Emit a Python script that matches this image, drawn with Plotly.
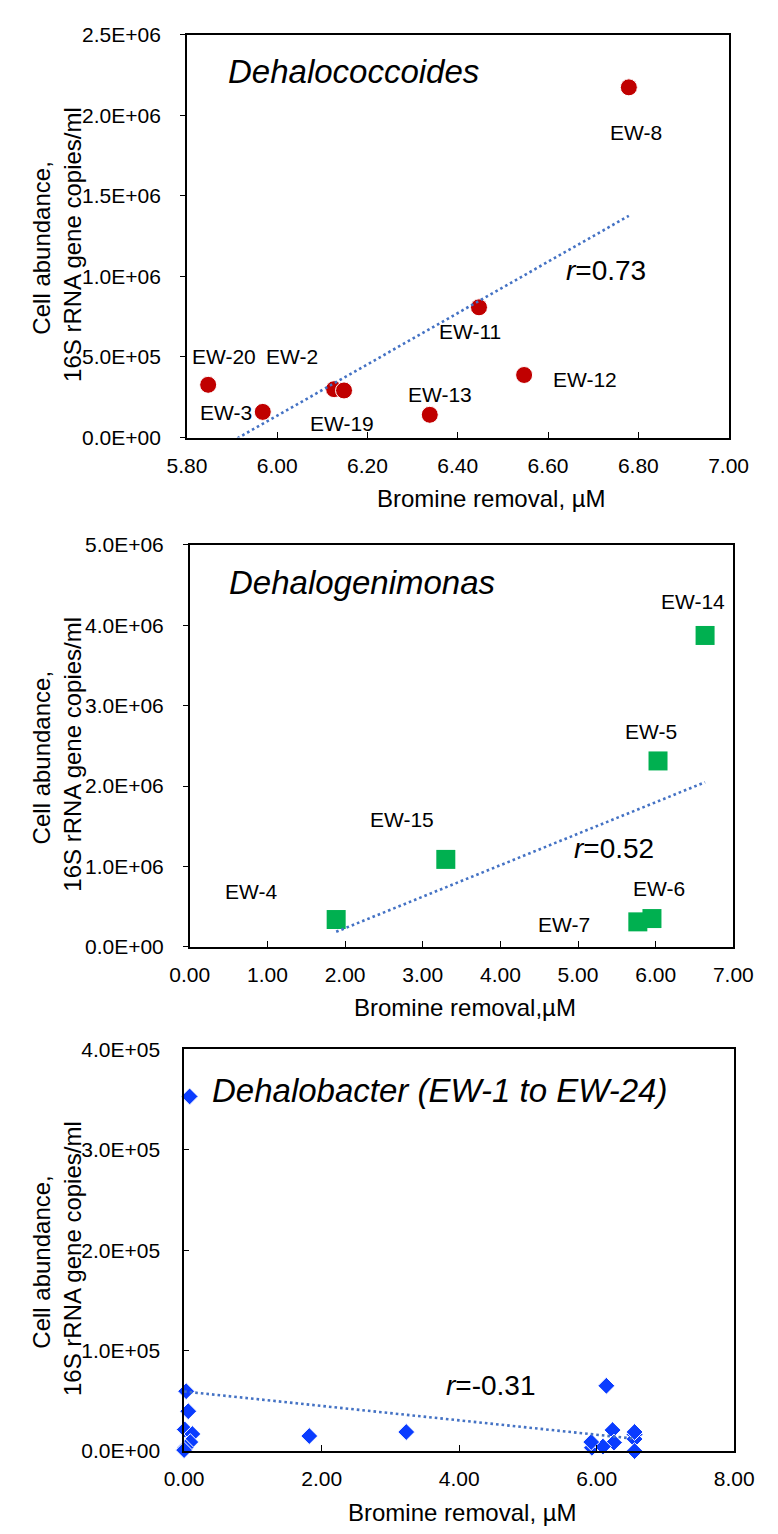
import numpy as np
import plotly.graph_objects as go

W, H = 778, 1534
FONT = "Liberation Sans, Arial, sans-serif"

# ---------------- data ----------------
# Panel 1: Dehalococcoides
dhc_wells = ["EW-8", "EW-11", "EW-12", "EW-13", "EW-20", "EW-3", "EW-2", "EW-19"]
dhc_br = [6.779, 6.447, 6.547, 6.338, 5.847, 5.968, 6.126, 6.148]
dhc_cells = [2.173e6, 0.808e6, 0.388e6, 0.141e6, 0.327e6, 0.159e6, 0.300e6, 0.292e6]
dhc_r = "0.73"

# Panel 2: Dehalogenimonas
dhg_wells = ["EW-14", "EW-5", "EW-15", "EW-4", "EW-7", "EW-6"]
dhg_br = [6.636, 6.030, 3.297, 1.885, 5.770, 5.952]
dhg_cells = [3.873e6, 2.312e6, 1.087e6, 0.339e6, 0.310e6, 0.351e6]
dhg_r = "0.52"

# Panel 3: Dehalobacter (EW-1 to EW-24)
dhb_br = [0.08, 0.03, 0.06, 0.01, 0.12, 0.09, 0.02, 0.00,
          1.82, 3.23,
          6.14, 6.23, 6.25, 5.93, 6.09, 5.92, 6.55, 6.55, 6.55, 6.55]
dhb_cells = [353000, 59600, 39700, 21500, 17000, 9000, 3500, 1000,
             15000, 19000,
             65000, 20900, 8500, 3300, 4500, 9000, 16500, 12000, 19000, 0]
dhb_r = "-0.31"

# tick labels
x1_ticks = [5.8, 6.0, 6.2, 6.4, 6.6, 6.8, 7.0]
y1_ticks = [0, 5e5, 1e6, 1.5e6, 2e6, 2.5e6]
y1_text = ["0.0E+00", "5.0E+05", "1.0E+06", "1.5E+06", "2.0E+06", "2.5E+06"]
x2_ticks = [0, 1, 2, 3, 4, 5, 6, 7]
y2_ticks = [0, 1e6, 2e6, 3e6, 4e6, 5e6]
y2_text = ["0.0E+00", "1.0E+06", "2.0E+06", "3.0E+06", "4.0E+06", "5.0E+06"]
x3_ticks = [0, 2, 4, 6, 8]
y3_ticks = [0, 1e5, 2e5, 3e5, 4e5]
y3_text = ["0.0E+00", "1.0E+05", "2.0E+05", "3.0E+05", "4.0E+05"]

# well label positions (data coords) - layout only
dhc_label_pos = {"EW-8": (6.794, 1.894e6), "EW-11": (6.426, 0.659e6), "EW-12": (6.681, 0.363e6),
                 "EW-13": (6.360, 0.267e6), "EW-20": (5.881, 0.50e6), "EW-2": (6.032, 0.50e6),
                 "EW-3": (5.886, 0.155e6), "EW-19": (6.143, 0.084e6)}
dhg_label_pos = {"EW-14": (6.479, 4.30e6), "EW-5": (5.945, 2.68e6), "EW-15": (2.733, 1.585e6),
                 "EW-4": (0.782, 0.686e6), "EW-7": (4.818, 0.282e6), "EW-6": (6.042, 0.727e6)}

# ---------------- layout geometry (pixels) ----------------
panels = [  # left, right, top, bottom
    (176, 747, 23, 432),
    (179, 752, 541, 949),
    (173, 753, 1053, 1461),
]


def px(x):
    return x / W


def py(y):
    return 1 - y / H


fig = go.Figure()


def trend(xs, ys):
    xs = np.asarray(xs, float)
    ys = np.asarray(ys, float)
    m, b = np.polyfit(xs, ys, 1)
    xr = np.array([xs.min(), xs.max()])
    return xr, m * xr + b


TREND = dict(color="#4472C4", width=2.6, dash="2.6px,3px")

# panel 1
fig.add_trace(go.Scatter(x=dhc_br, y=dhc_cells, mode="markers", xaxis="x", yaxis="y",
                         marker=dict(symbol="circle", size=17, color="#C00000",
                                     line=dict(color="white", width=1)),
                         cliponaxis=False, showlegend=False))
tx, ty = trend(dhc_br, dhc_cells)
fig.add_trace(go.Scatter(x=tx, y=ty, mode="lines", xaxis="x", yaxis="y", line=TREND, showlegend=False))

# panel 2
fig.add_trace(go.Scatter(x=dhg_br, y=dhg_cells, mode="markers", xaxis="x2", yaxis="y2",
                         marker=dict(symbol="square", size=19, color="#00B050"),
                         cliponaxis=False, showlegend=False))
tx, ty = trend(dhg_br, dhg_cells)
fig.add_trace(go.Scatter(x=tx, y=ty, mode="lines", xaxis="x2", yaxis="y2", line=TREND, showlegend=False))

# panel 3
fig.add_trace(go.Scatter(x=dhb_br, y=dhb_cells, mode="markers", xaxis="x3", yaxis="y3",
                         marker=dict(symbol="diamond", size=13, color="#0A3CFF",
                                     line=dict(color="white", width=1)),
                         cliponaxis=False, showlegend=False))
tx, ty = trend(dhb_br, dhb_cells)
fig.add_trace(go.Scatter(x=tx, y=ty, mode="lines", xaxis="x3", yaxis="y3", line=TREND, showlegend=False))

TICKFONT = dict(family=FONT, size=21, color="black")


def xaxis(i, rng, vals, fmt):
    l, r, t, b = panels[i]
    return dict(domain=[px(l), px(r)], range=rng, tickvals=vals, tickformat=fmt,
                anchor="y" if i == 0 else f"y{i+1}",
                showline=True, mirror=True, linecolor="black", linewidth=1.6,
                ticks="inside", ticklen=6, tickwidth=1.3, tickcolor="black",
                showgrid=False, zeroline=False, tickfont=TICKFONT, ticklabelstandoff=8,
                fixedrange=True)


def yaxis(i, rng, vals, text, tickdir):
    l, r, t, b = panels[i]
    return dict(domain=[py(b), py(t)], range=rng, tickvals=vals, ticktext=text,
                anchor="x" if i == 0 else f"x{i+1}",
                showline=True, mirror=True, linecolor="black", linewidth=1.6,
                ticks=tickdir, ticklen=5, tickwidth=1.3, tickcolor="black",
                showgrid=False, zeroline=False, tickfont=TICKFONT,
                ticklabelstandoff=(15 if tickdir == "outside" else 18),
                fixedrange=True)


fig.update_layout(
    width=W, height=H, margin=dict(l=0, r=0, t=0, b=0),
    paper_bgcolor="white", plot_bgcolor="white",
    font=dict(family=FONT, color="black"),
    xaxis=xaxis(0, [5.8, 7.0], x1_ticks, ".2f"),
    yaxis=yaxis(0, [0, 2.5e6], y1_ticks, y1_text, "outside"),
    xaxis2=xaxis(1, [0, 7], x2_ticks, ".2f"),
    yaxis2=yaxis(1, [0, 5e6], y2_ticks, y2_text, "outside"),
    xaxis3=xaxis(2, [0, 8], x3_ticks, ".2f"),
    yaxis3=yaxis(2, [0, 4e5], y3_ticks, y3_text, "inside"),
)

ann = []
LBL = dict(family=FONT, size=21, color="black")
for w, (lx, ly) in dhc_label_pos.items():
    ann.append(dict(x=lx, y=ly, xref="x", yref="y", text=w, showarrow=False, font=LBL))
for w, (lx, ly) in dhg_label_pos.items():
    ann.append(dict(x=lx, y=ly, xref="x2", yref="y2", text=w, showarrow=False, font=LBL))

TITLE = dict(family=FONT, size=33, color="black")
RF = dict(family=FONT, size=28, color="black")
ann += [
    dict(x=5.886, y=2.271e6, xref="x", yref="y", text="<i>Dehalococcoides</i>", showarrow=False,
         xanchor="left", font=TITLE),
    dict(x=6.728, y=1.037e6, xref="x", yref="y", text="<i>r</i>=" + dhc_r, showarrow=False, font=RF),
    dict(x=0.479, y=4.538e6, xref="x2", yref="y2", text="<i>Dehalogenimonas</i>", showarrow=False,
         xanchor="left", font=TITLE),
    dict(x=5.46, y=1.217e6, xref="x2", yref="y2", text="<i>r</i>=" + dhg_r, showarrow=False, font=RF),
    dict(x=0.383, y=3.59e5, xref="x3", yref="y3", text="<i>Dehalobacter (EW-1 to EW-24)</i>",
         showarrow=False, xanchor="left", font=TITLE),
    dict(x=4.456, y=0.653e5, xref="x3", yref="y3", text="<i>r</i>=" + dhb_r, showarrow=False, font=RF),
]

AX = dict(family=FONT, size=24, color="black")
xtitles = ["Bromine removal, µM", "Bromine removal,µM", "Bromine removal, µM"]
xt_cx = [497, 469, 466]
for i, (l, r, t, b) in enumerate(panels):
    ann.append(dict(x=px(xt_cx[i]), y=py(b + 62), xref="paper", yref="paper", text=xtitles[i],
                    showarrow=False, xanchor="center", yanchor="middle", font=AX))
    ann.append(dict(x=px(39), y=py((t + b) / 2 + 8), xref="paper", yref="paper",
                    text="Cell abundance, <br>16S rRNA gene copies/ml", textangle=-90,
                    showarrow=False, xanchor="center", yanchor="middle", font=AX))

fig.update_layout(annotations=ann)
fig.write_html("out.html")
